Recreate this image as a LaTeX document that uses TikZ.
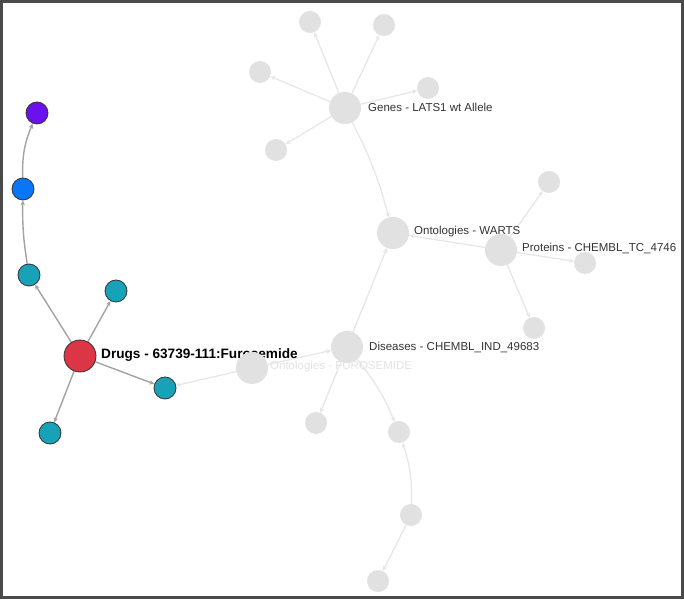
\documentclass[tikz,border=0pt]{standalone}
\usepackage{fontspec}
\setmainfont{Liberation Sans}
\usetikzlibrary{arrows.meta}
\pgfdeclarelayer{paper}
\pgfdeclarelayer{edges}
\pgfsetlayers{paper,edges,main}
\definecolor{frame}{HTML}{4A4A4A}
\definecolor{gfill}{HTML}{E1E1E1}
\definecolor{gedge}{HTML}{E6E6E6}
\definecolor{cedge}{HTML}{A3A3A3}
\definecolor{nred}{HTML}{DC3545}
\definecolor{nteal}{HTML}{17A2B8}
\definecolor{nblue}{HTML}{0A75F5}
\definecolor{npurple}{HTML}{6A12EE}
\definecolor{ltext}{HTML}{E3E3E3}
\definecolor{dtext}{HTML}{333333}
\tikzset{
  cnode/.style={circle,draw=black!80,line width=0.8pt,inner sep=0pt,minimum size=22pt},
  bignode/.style={cnode,minimum size=32pt},
  gleaf/.style={circle,fill=gfill,draw=none,inner sep=0pt,minimum size=22pt},
  ghub/.style={gleaf,minimum size=32pt},
  cedgestyle/.style={draw=cedge,line width=1.4pt,-{Stealth[length=5pt,width=4.5pt]}},
  gedgestyle/.style={draw=gedge,line width=1.2pt,-{Stealth[length=5pt,width=4.5pt]}},
  glabel/.style={anchor=west,inner sep=0pt,font=\fontsize{11.5}{13}\selectfont,text=dtext},
  druglabel/.style={anchor=west,inner sep=0pt,font=\bfseries\fontsize{13.6}{15}\selectfont},
}
\begin{document}
\begin{tikzpicture}[x=1pt,y=1pt]
\useasboundingbox (0,0) rectangle (684,599);
\begin{pgfonlayer}{paper}
\fill[white] (0,0) rectangle (684,599);
\end{pgfonlayer}
% colored nodes
\node[cnode,fill=npurple] (pur) at (37,486) {};
\node[cnode,fill=nblue] (blu) at (23,410) {};
\node[cnode,fill=nteal] (t1) at (29,324) {};
\node[cnode,fill=nteal] (t2) at (116,308) {};
\node[bignode,fill=nred] (drug) at (80,243) {};
\node[cnode,fill=nteal] (t3) at (165,211) {};
\node[cnode,fill=nteal] (t4) at (50,166) {};
\node[druglabel] (druglab) at (101,244) {Drugs - 63739-111:Furosemide};
% grey nodes
\node[ghub]  (genes) at (345,491) {};
\node[gleaf] (g1) at (310,577) {};
\node[gleaf] (g2) at (384,574) {};
\node[gleaf] (g3) at (260,527) {};
\node[gleaf] (g4) at (428,511) {};
\node[gleaf] (g5) at (276,449) {};
\node[ghub]  (warts) at (393,366) {};
\node[ghub]  (prot) at (501,349) {};
\node[gleaf] (p1) at (549,417) {};
\node[gleaf] (p2) at (585,336) {};
\node[gleaf] (p3) at (534,271) {};
\node[ghub]  (dis) at (347,252) {};
\node[gleaf] (d1) at (316,176) {};
\node[gleaf] (d2) at (399,167) {};
\node[gleaf] (d3) at (411,84) {};
\node[gleaf] (d4) at (378,18) {};
\node[ghub]  (furo) at (252,231) {};
% labels
\node[glabel] (lgenes) at (368,492) {Genes - LATS1 wt Allele};
\node[glabel] (lwarts) at (414,367) {Ontologies - WARTS};
\node[glabel] (lprot) at (522,351) {Proteins - CHEMBL\_TC\_4746};
\node[glabel] (ldis) at (369,252) {Diseases - CHEMBL\_IND\_49683};
\node[glabel,text=ltext] (lfuro) at (270,232) {Ontologies - FUROSEMIDE};
% edges
\begin{pgfonlayer}{edges}
\draw[gedgestyle] (genes) -- (g1);
\draw[gedgestyle] (genes) -- (g2);
\draw[gedgestyle] (genes) -- (g3);
\draw[gedgestyle] (genes) -- (g4);
\draw[gedgestyle] (genes) -- (g5);
\draw[gedgestyle] (genes) to[bend left=6] (warts);
\draw[gedgestyle] (prot) -- (warts);
\draw[gedgestyle] (prot) -- (p1);
\draw[gedgestyle] (prot) -- (p2);
\draw[gedgestyle] (prot) -- (p3);
\draw[gedgestyle] (dis) -- (warts);
\draw[gedgestyle] (dis) -- (d1);
\draw[gedgestyle] (dis) to[bend left=8] (d2);
\draw[gedgestyle] (d3) to[bend right=10] (d2);
\draw[gedgestyle] (d3) -- (d4);
\draw[gedgestyle] (furo) -- (dis);
\draw[gedgestyle] (furo) -- (t3);
\draw[cedgestyle] (drug) -- (t1);
\draw[cedgestyle] (drug) -- (t2);
\draw[cedgestyle] (drug) -- (t3);
\draw[cedgestyle] (drug) -- (t4);
\draw[cedgestyle] (t1) to[bend left=5] (blu);
\draw[cedgestyle] (blu) to[bend left=12] (pur);
\end{pgfonlayer}
% frame
\draw[frame,line width=3pt] (1.5,1.5) rectangle (682.5,597.5);
\end{tikzpicture}
\end{document}
